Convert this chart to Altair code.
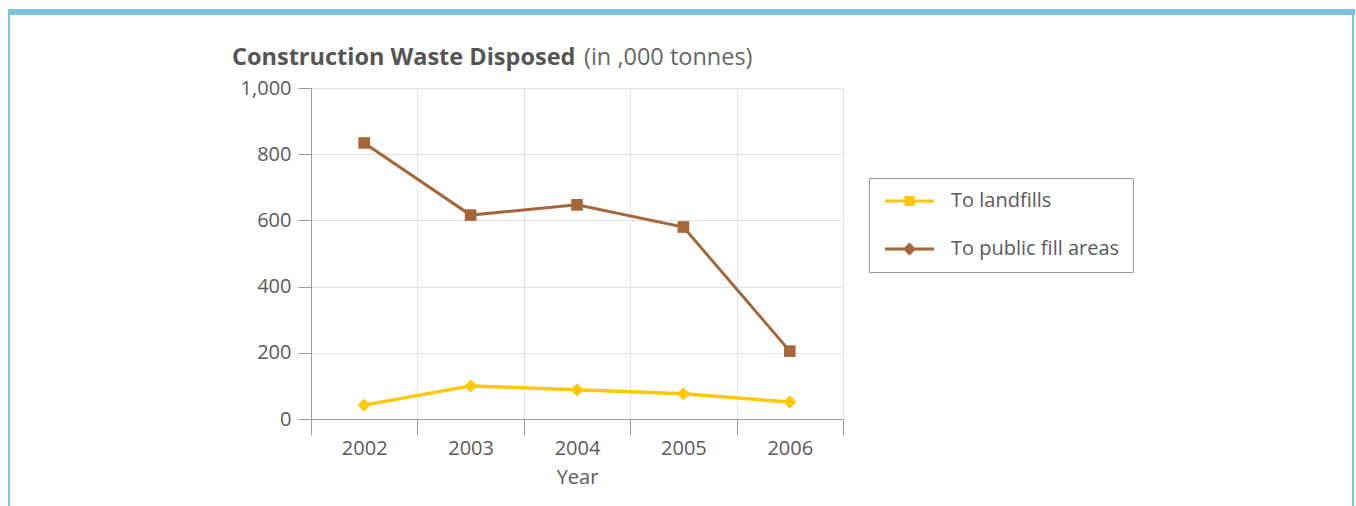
import altair as alt
import pandas as pd

# Values in thousand tonnes
years = ["2002", "2003", "2004", "2005", "2006"]
landfills = [42, 100, 88, 76, 51]
public_fill = [834, 616, 647, 580, 205]

series_names = ["To landfills", "To public fill areas"]
series_colors = ["#FFC800", "#A5673A"]
y_ticks = [0, 200, 400, 600, 800, 1000]

title_bold = "Construction Waste Disposed"
title_rest = "(in ,000 tonnes)"
x_title = "Year"

FONT = "Open Sans"
TEXT = "#5a5a5a"
LINE_GREY = "#9a9a9a"
GRID = "#e2e2e2"
FRAME = "#7DC3E0"

df = pd.DataFrame({
    "Year": years * 2,
    "value": landfills + public_fill,
    "series": [series_names[0]] * len(years) + [series_names[1]] * len(years),
})

x_enc = alt.X(
    "Year:N",
    sort=years,
    bandPosition=0.5,
    scale=alt.Scale(type="band", paddingInner=0, paddingOuter=0),
    axis=alt.Axis(
        title=x_title, tickBand="extent", grid=True, gridColor=GRID,
        tickSize=16, tickColor=LINE_GREY, domainColor=LINE_GREY,
        labelAngle=0, labelFont=FONT, labelFontSize=20, labelColor=TEXT,
        labelPadding=3, titleFont=FONT, titleFontSize=20,
        titleFontWeight="normal", titleColor=TEXT, titlePadding=9,
    ),
)
y_enc = alt.Y(
    "value:Q",
    scale=alt.Scale(domain=[0, 1000], nice=False),
    axis=alt.Axis(
        title=None, values=y_ticks, format=",.0f", grid=True, gridColor=GRID,
        tickSize=13, tickColor=LINE_GREY, domainColor=LINE_GREY,
        labelFont=FONT, labelFontSize=20, labelColor=TEXT, labelPadding=7,
    ),
)

base = alt.Chart(df).encode(x=x_enc, y=y_enc)
is_land = alt.datum.series == series_names[0]
is_fill = alt.datum.series == series_names[1]

land_line = base.transform_filter(is_land).mark_line(color=series_colors[0], strokeWidth=3.5)
fill_line = base.transform_filter(is_fill).mark_line(color=series_colors[1], strokeWidth=3)
land_pts = base.transform_filter(is_land).mark_point(
    shape="diamond", filled=True, size=170, opacity=1, color=series_colors[0])
fill_pts = base.transform_filter(is_fill).mark_point(
    shape="square", filled=True, size=135, opacity=1, color=series_colors[1])

# Legend symbols: a short line with a marker in the middle
sym_square = "M-1.4,-0.3H8.4V0.3H-1.4Z M2.5,-1H4.5V1H2.5Z"
sym_diamond = "M-1.4,-0.3H8.4V0.3H-1.4Z M3.5,-1.3L4.8,0L3.5,1.3L2.2,0Z"

legend = alt.Legend(
    title=None, orient="none", legendX=558, legendY=90,
    padding=13, rowPadding=28, strokeColor=LINE_GREY, fillColor="white",
    cornerRadius=0, labelFont=FONT, labelFontSize=20, labelColor=TEXT,
    labelOffset=49, labelLimit=400, symbolSize=100, symbolStrokeWidth=0,
)
legend_layer = base.transform_filter("false").mark_point(filled=True, opacity=1, size=100).encode(
    color=alt.Color("series:N", scale=alt.Scale(domain=series_names, range=series_colors), legend=legend),
    shape=alt.Shape("series:N", scale=alt.Scale(domain=series_names, range=[sym_square, sym_diamond]), legend=legend),
)

one = pd.DataFrame({"bold": [title_bold], "rest": [title_rest]})
title_a = alt.Chart(one).mark_text(
    align="left", baseline="alphabetic", font=FONT, fontSize=23.5, fontWeight="bold", color="#555555"
).encode(x=alt.value(-79), y=alt.value(-23), text="bold:N")
title_b = alt.Chart(one).mark_text(
    align="left", baseline="alphabetic", font=FONT, fontSize=23.5, color="#666666"
).encode(x=alt.value(273), y=alt.value(-23), text="rest:N")

# Page frame
frame_top = alt.Chart(one).mark_rect(color=FRAME).encode(
    x=alt.value(-303), x2=alt.value(1044), y=alt.value(-79), y2=alt.value(-73))
frame_left = alt.Chart(one).mark_rect(color=FRAME).encode(
    x=alt.value(-303), x2=alt.value(-301), y=alt.value(-73), y2=alt.value(418))
frame_right = alt.Chart(one).mark_rect(color=FRAME).encode(
    x=alt.value(1041), x2=alt.value(1043), y=alt.value(-73), y2=alt.value(418))

chart = alt.layer(
    frame_top, frame_left, frame_right,
    land_line, fill_line, land_pts, fill_pts, legend_layer,
    title_a, title_b,
).properties(
    width=532, height=331,
    autosize=alt.AutoSizeParams(type="none"),
    padding={"left": 311, "top": 88, "right": 513, "bottom": 87},
    background="white",
).configure_view(stroke=None)

chart.save("out.html", embed_options={"renderer": "svg", "actions": False})
